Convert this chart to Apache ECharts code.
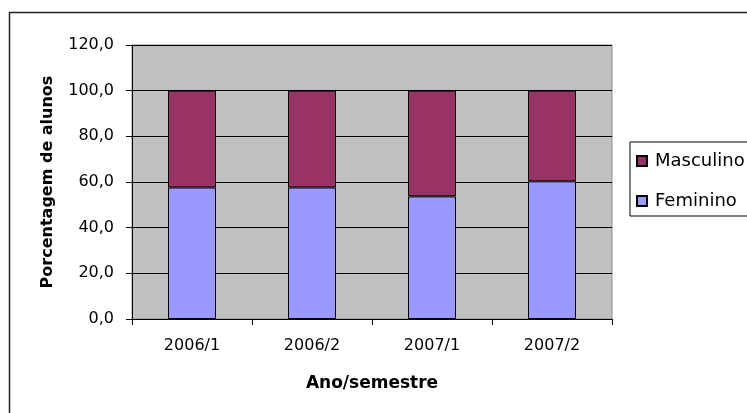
<!DOCTYPE html>
<html><head><meta charset="utf-8">
<script src="https://cdn.jsdelivr.net/npm/echarts@6/dist/echarts.min.js"></script>
<style>html,body{margin:0;padding:0;background:#fff}#c{width:747px;height:413px}</style>
</head><body><div id="c"></div>
<script>
const categories = ['2006/1', '2006/2', '2007/1', '2007/2'];
const feminino = [57.6, 57.6, 53.7, 60.3];
const masculino = [42.4, 42.4, 46.3, 39.7];
const yTicks = { min: 0, max: 120, interval: 20 };

const chart = echarts.init(document.getElementById('c'), null, { renderer: 'canvas' });
const font = 'DejaVu Sans, Liberation Sans, Arial, sans-serif';
chart.setOption({
  animation: false,
  textStyle: { fontFamily: font },
  graphic: [{
    type: 'rect', z: -10, silent: true,
    shape: { x: 9.5, y: 12.5, width: 800, height: 500 },
    style: { fill: '#fff', stroke: '#222', lineWidth: 1.5 }
  }],
  grid: {
    left: 132, right: 135, top: 45, bottom: 94,
    show: true, backgroundColor: '#C0C0C0', borderColor: '#909090', borderWidth: 1
  },
  legend: {
    orient: 'vertical', left: 630, top: 142, width: 130,
    data: ['Masculino', 'Feminino'],
    backgroundColor: '#fff', borderColor: '#000', borderWidth: 1,
    padding: [10, 40, 6, 6], itemGap: 22,
    itemWidth: 10, itemHeight: 10, icon: 'rect',
    textStyle: { fontFamily: font, fontSize: 18, color: '#000', padding: [0, 0, 0, 3] }
  },
  xAxis: {
    type: 'category', data: categories,
    name: 'Ano/semestre', nameLocation: 'middle', nameGap: 56,
    nameTextStyle: { fontFamily: font, fontSize: 17, fontWeight: 'bold', color: '#000' },
    axisLine: { lineStyle: { color: '#000', width: 1 } },
    axisTick: { show: true, length: 6, lineStyle: { color: '#000' } },
    axisLabel: { fontFamily: font, fontSize: 16, color: '#000', margin: 19 },
    splitLine: { show: false }
  },
  yAxis: {
    type: 'value', min: yTicks.min, max: yTicks.max, interval: yTicks.interval,
    name: 'Porcentagem de alunos', nameLocation: 'middle', nameGap: 76,
    nameTextStyle: { fontFamily: font, fontSize: 16, fontWeight: 'bold', color: '#000' },
    axisLine: { show: true, lineStyle: { color: '#000', width: 1 } },
    axisTick: { show: true, length: 6, lineStyle: { color: '#000' } },
    axisLabel: { fontFamily: font, fontSize: 16, color: '#000', margin: 18,
      formatter: v => v.toFixed(1).replace('.', ',') },
    splitLine: { show: true, lineStyle: { color: '#000', width: 1 } }
  },
  series: [
    { name: 'Feminino', type: 'bar', stack: 's', data: feminino, barWidth: '40%',
      itemStyle: { color: '#9999FF', borderColor: '#000', borderWidth: 1 } },
    { name: 'Masculino', type: 'bar', stack: 's', data: masculino, barWidth: '40%',
      itemStyle: { color: '#993366', borderColor: '#000', borderWidth: 1 } }
  ]
});
</script></body></html>
